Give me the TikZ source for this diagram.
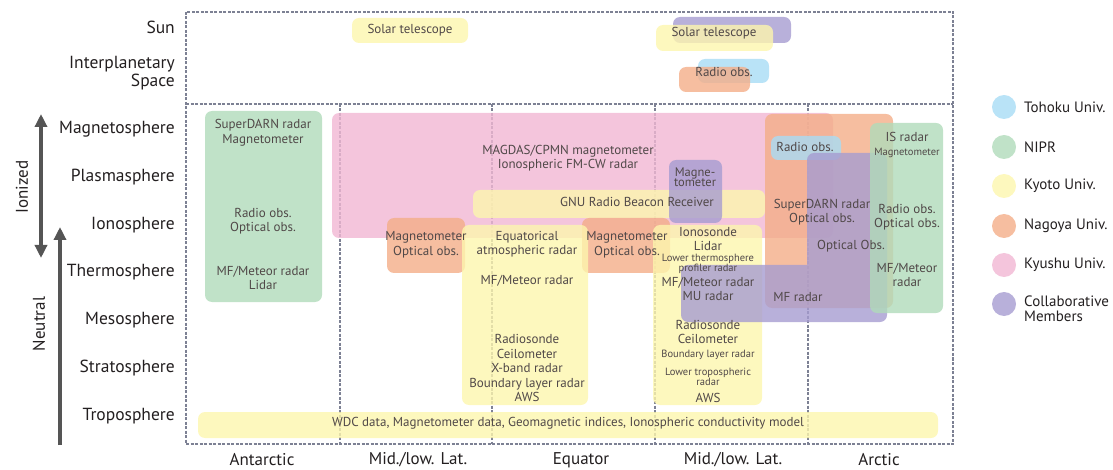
\documentclass[tikz,border=0pt]{standalone}
\usepackage{fontspec}
\setmainfont{PT Sans}
\usetikzlibrary{arrows.meta,positioning}

\definecolor{tohokucol}{RGB}{168,220,245}
\definecolor{niprcol}{RGB}{176,219,186}
\definecolor{kyotocol}{RGB}{253,246,174}
\definecolor{nagoyacol}{RGB}{244,174,136}
\definecolor{kyushucol}{RGB}{241,183,211}
\definecolor{collabcol}{RGB}{166,156,209}
\definecolor{framecol}{RGB}{125,129,148}
\definecolor{labelcol}{RGB}{35,31,32}
\definecolor{obscol}{RGB}{80,72,72}
\definecolor{arrowcol}{RGB}{85,85,85}

\tikzset{
  org/.style={fill opacity=0.8, rounded corners=7pt},
  tohoku/.style={org, fill=tohokucol},
  nipr/.style={org, fill=niprcol},
  kyoto/.style={org, fill=kyotocol},
  nagoya/.style={org, fill=nagoyacol},
  kyushu/.style={org, fill=kyushucol},
  collab/.style={org, fill=collabcol},
  frame/.style={draw=framecol, line width=2.2pt, dash pattern=on 3pt off 1.5pt},
  rowlabel/.style={anchor=east, inner sep=0, align=right, text=labelcol,
    font=\fontsize{17.5}{18}\selectfont},
  collabel/.style={inner sep=0, text=labelcol, font=\fontsize{17}{18}\selectfont},
  obs/.style={inner sep=0, align=center, text=obscol,
    font=\fontsize{13}{14.5}\selectfont},
  obssmall/.style={obs, font=\fontsize{10.5}{10}\selectfont},
  legend/.style={anchor=west, inner sep=0, align=left, text=labelcol,
    font=\fontsize{15}{15}\selectfont},
  layerarrow/.style={draw=arrowcol, line width=4pt},
}

\begin{document}
\begin{tikzpicture}[x=1pt,y=-1pt]
\useasboundingbox (0,0) rectangle (1113,470);

% frame
\draw[frame] (186,12) rectangle (953,444);
\draw[frame] (186,104) -- (953,104);
\foreach \x in {340,492,655,808}
  \draw[frame] (\x,104) -- (\x,444);

% layer labels
\node[rowlabel] (sun) at (175,27) {Sun};
\node[rowlabel] (ips) at (175,73) {Interplanetary\\Space};
\node[rowlabel] (magneto) at (175,129) {Magnetosphere};
\node[rowlabel] (plasma) at (175,177) {Plasmasphere};
\node[rowlabel] (iono) at (175,225) {Ionosphere};
\node[rowlabel] (thermo) at (175,272) {Thermosphere};
\node[rowlabel] (meso) at (175,320) {Mesosphere};
\node[rowlabel] (strato) at (175,368) {Stratosphere};
\node[rowlabel] (tropo) at (175,416) {Troposphere};

% latitude labels
\node[collabel] (antarctic) at (262,460) {Antarctic};
\node[collabel] (midsouth) at (418,460) {Mid./low. Lat.};
\node[collabel] (equator) at (581,460) {Equator};
\node[collabel] (midnorth) at (733,460) {Mid./low. Lat.};
\node[collabel] (arctic) at (879,460) {Arctic};

% ionized / neutral arrows
\coordinate (ion top) at (41,114);
\coordinate (ion bot) at (41,258);
\coordinate (neu top) at (60,227);
\coordinate (neu bot) at (60,445);
\draw[layerarrow, {Triangle[length=13pt,width=12pt]}-{Triangle[length=13pt,width=12pt]}] (ion bot) -- (ion top);
\draw[layerarrow, -{Triangle[length=13pt,width=12pt]}] (neu bot) -- (neu top);
\node[collabel, rotate=90] (ionized) at (22,187) {Ionized};
\node[collabel, rotate=90] (neutral) at (39,324) {Neutral};

% observation areas
\fill[kyushu] (332,113) rectangle (833,238);
\fill[nipr] (205,111) rectangle (322,302);
\fill[kyoto] (352,18) rectangle (468,43);
\fill[collab] (673,17) rectangle (791,43);
\fill[kyoto] (656,25) rectangle (773,51);
\fill[tohoku] (698,59) rectangle (769,83);
\fill[nagoya] (679,67) rectangle (750,92);
\fill[kyoto] (473,190) rectangle (765,218);
\fill[collab] (669,160) rectangle (722,223);
\fill[nagoya] (387,218) rectangle (465,273);
\fill[nagoya] (582,218) rectangle (670,273);
\fill[kyoto] (462,225) rectangle (588,405);
\fill[kyoto] (653,225) rectangle (762,405);
\fill[nagoya] (765,114) rectangle (893,308);
\fill[tohoku] (771,136) rectangle (841,160);
\fill[collab] (807,153) rectangle (887,322) (681,265) rectangle (887,322);
\fill[nipr] (870,123) rectangle (943,313);
\fill[kyoto] (198,412) rectangle (938,438);

% instruments
\node[obs] (sol1) at (410,30) {Solar telescope};
\node[obs] (sol2) at (714,33) {Solar telescope};
\node[obs] (radio ip) at (724,72) {Radio obs.};
\node[obs] (ant1) at (263,133) {SuperDARN radar\\Magnetometer};
\node[obs] (ant2) at (263,221) {Radio obs.\\Optical obs.};
\node[obs] (ant3) at (263,278) {MF/Meteor radar\\Lidar};
\node[obs] (magdas) at (568,158) {MAGDAS/CPMN magnetometer\\Ionospheric FM-CW radar};
\node[obs, font=\fontsize{12.5}{10.5}\selectfont] (magne) at (695,177) {Magne-\\tometer};
\node[obs] (gnu) at (637,202) {GNU Radio Beacon Receiver};
\node[obs] (nag1) at (426,245) {Magnetometer\\Optical obs.};
\node[obs] (nag2) at (627,245) {Magnetometer\\Optical obs.};
\node[obs] (ear) at (527,244) {Equatorical\\atmospheric radar};
\node[obs] (eqmf) at (527,281) {MF/Meteor radar};
\node[obs] (eqlow) at (527,368) {Radiosonde\\Ceilometer\\X-band radar\\Boundary layer radar\\AWS};
\node[obs] (ionosonde) at (708,232) {Ionosonde};
\node[obs] (lidar) at (708,245.5) {Lidar};
\node[obssmall] (ltpr) at (708,264) {Lower thermosphere\\profiler radar};
\node[obs] (mu) at (708,289) {MF/Meteor radar\\MU radar};
\node[obs] (radiosonde) at (708,332) {Radiosonde\\Ceilometer};
\node[obssmall] (blr) at (708,355) {Boundary layer radar};
\node[obssmall] (ltr) at (708,377) {Lower tropospheric\\radar};
\node[obs] (aws) at (708,398) {AWS};
\node[obs] (radio arc) at (805,147) {Radio obs.};
\node[obs] (sdarn arc) at (822,212) {SuperDARN radar\\Optical obs.};
\node[obs] (opt arc) at (851,246) {Optical Obs.};
\node[obs] (mf arc) at (798,297) {MF radar};
\node[obs] (is arc) at (907,137) {IS radar};
\node[obssmall] (mag arc) at (907,153) {Magnetometer};
\node[obs] (nipr arc) at (907,217) {Radio obs.\\Optical obs.};
\node[obs] (met arc) at (907,275) {MF/Meteor\\radar};
\node[obs] (data) at (568,423) {WDC data, Magnetometer data, Geomagnetic indices, Ionospheric conductivity model};

% legend
\foreach \y/\c/\t in {107/tohoku/Tohoku Univ., 147/nipr/NIPR, 186/kyoto/Kyoto Univ.,
    226/nagoya/Nagoya Univ., 265/kyushu/Kyushu Univ.}{
  \fill[\c] (1004,\y) circle (12pt);
  \node[legend] (key \c) at (1024,\y) {\t};
}
\fill[collab] (1004,304) circle (12pt);
\node[legend] (key collab) at (1024,309) {Collaborative\\Members};
\end{tikzpicture}
\end{document}
